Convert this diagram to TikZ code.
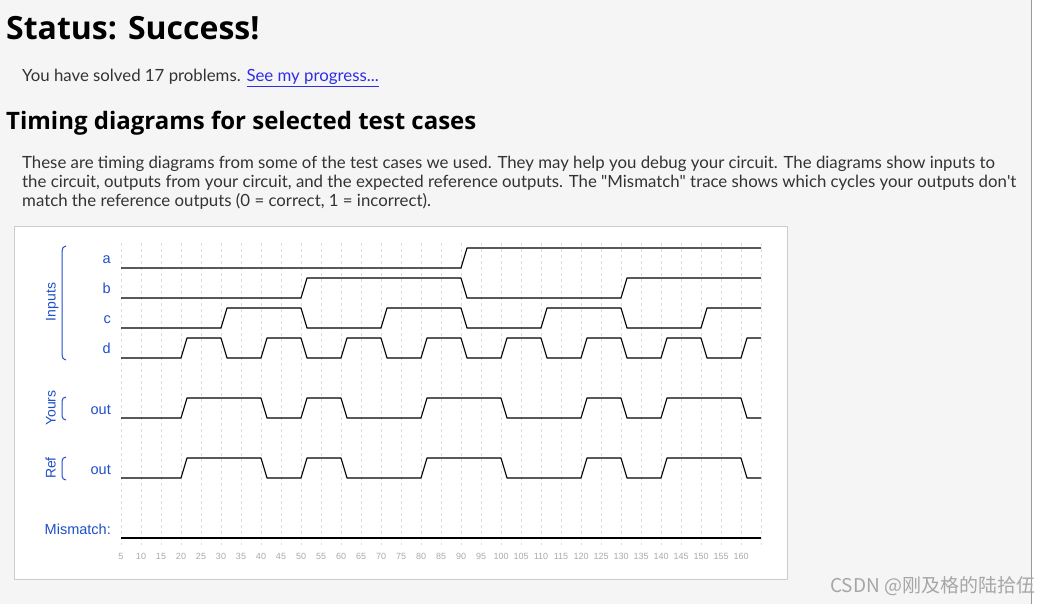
\documentclass[tikz,border=0pt]{standalone}
\usepackage{fontspec}
\setmainfont{Lato}
\newfontfamily\headfont{Open Sans}
\newfontfamily\arialfont{Liberation Sans}
\newfontfamily\cjkfont{Noto Sans CJK SC}
\definecolor{pagebg}{HTML}{F5F5F5}
\definecolor{bodytext}{HTML}{333333}
\definecolor{linkblue}{HTML}{2E2EE6}
\definecolor{lblblue}{HTML}{1E50C8}
\definecolor{gridgray}{HTML}{DCDCDC}
\definecolor{axisgray}{HTML}{AAAAAA}
\definecolor{boxgray}{HTML}{CCCCCC}
\definecolor{rulegray}{HTML}{9A9A9A}
\definecolor{wmgray}{HTML}{A6A6A6}
\tikzset{
  txt/.style={anchor=base west, inner sep=0pt, text=bodytext, font=\fontsize{16.8}{19}\selectfont},
  lbl/.style={anchor=base east, inner sep=0pt, text=lblblue, font=\arialfont\fontsize{14.5}{16}\selectfont},
  grplbl/.style={anchor=base, inner sep=0pt, rotate=90, text=lblblue, font=\arialfont\fontsize{14}{16}\selectfont},
  axislbl/.style={anchor=base, inner sep=0pt, text=axisgray, font=\arialfont\fontsize{9}{10}\selectfont},
  wave/.style={draw=black, line width=1.1pt, line join=round},
  gridline/.style={draw=gridgray, line width=0.7pt, dash pattern=on 3pt off 3pt},
  bracket/.style={draw=lblblue, line width=1pt}
}
\begin{document}
\begin{tikzpicture}[x=1pt,y=-1pt]
\useasboundingbox (0,0) rectangle (1056,604);
\fill[pagebg] (0,0) rectangle (1031,604);
\fill[white] (1031,0) rectangle (1056,604);
\draw[rulegray, line width=1.2pt] (1031.5,0) -- (1031.5,604);

% header texts
\node[anchor=base west, inner sep=0pt, text=black, font=\headfont\bfseries\fontsize{32}{38}\selectfont] (title) at (6,40) {Status: Success!};
\node[txt] (solved) at (22,81.5) {You have solved 17 problems. \textcolor{linkblue}{\underline{See my progress...}}};
\node[anchor=base west, inner sep=0pt, text=black, font=\headfont\bfseries\fontsize{24}{28}\selectfont] (h2) at (6,130) {Timing diagrams for selected test cases};
\node[txt] (p1) at (22,168) {These are timing diagrams from some of the test cases we used. They may help you debug your circuit. The diagrams show inputs to};
\node[txt] (p2) at (22,187.5) {the circuit, outputs from your circuit, and the expected reference outputs. The \textquotedbl Mismatch\textquotedbl{} trace shows which cycles your outputs don\textquotesingle t};
\node[txt] (p3) at (22,206.5) {match the reference outputs (0 = correct, 1 = incorrect).};

% diagram box
\draw[boxgray, fill=white, line width=1pt] (14.5,226.5) rectangle (787.5,579.5);

% grid
\foreach \t in {5,10,...,165} {
  \draw[gridline] ({101+4*\t},243) -- ({101+4*\t},545);
}
\foreach \t in {5,10,...,160} {
  \node[axislbl] (ax\t) at ({101+4*\t},559) {\t};
}

% labels
\node[lbl] (la) at (111,263.5) {a};
\node[lbl] (lb) at (111,293.5) {b};
\node[lbl] (lc) at (111,323.5) {c};
\node[lbl] (ld) at (111,353.5) {d};
\node[lbl] (lyo) at (111,414) {out};
\node[lbl] (lro) at (111,474) {out};
\node[lbl] (lmm) at (111,534) {Mismatch:};
\node[grplbl] (ginputs) at (55.5,302) {Inputs};
\node[grplbl] (gyours) at (55.5,408) {Yours};
\node[grplbl] (gref) at (55.5,468) {Ref};

% brackets
\draw[bracket] (66,246) to[out=180,in=90] (62,251) -- (62,355) to[out=-90,in=180] (66,360);
\draw[bracket] (66,397) to[out=180,in=90] (62,401) -- (62,416) to[out=-90,in=180] (66,420);
\draw[bracket] (66,457) to[out=180,in=90] (62,461) -- (62,476) to[out=-90,in=180] (66,480);

% waveforms (x in time units)
\begin{scope}[x=4pt, xshift=101pt]
\draw[wave] (5,268) -- (90,268) -- (91.5,248) -- (165,248);
\draw[wave] (5,298) -- (50,298) -- (51.5,278) -- (90,278) -- (91.5,298) -- (130,298) -- (131.5,278) -- (165,278);
\draw[wave] (5,328) -- (30,328) -- (31.5,308) -- (50,308) -- (51.5,328) -- (70,328) -- (71.5,308) -- (90,308) -- (91.5,328) -- (110,328) -- (111.5,308) -- (130,308) -- (131.5,328) -- (150,328) -- (151.5,308) -- (165,308);
\draw[wave] (5,358) \foreach \t in {20,40,...,140} { -- (\t,358) -- (\t+1.5,338) -- (\t+10,338) -- (\t+11.5,358) } -- (160,358) -- (161.5,338) -- (165,338);
\draw[wave] (5,418) -- (20,418) -- (21.5,398) -- (40,398) -- (41.5,418) -- (50,418) -- (51.5,398) -- (60,398) -- (61.5,418) -- (80,418) -- (81.5,398) -- (100,398) -- (101.5,418) -- (120,418) -- (121.5,398) -- (130,398) -- (131.5,418) -- (140,418) -- (141.5,398) -- (160,398) -- (161.5,418) -- (165,418);
\draw[wave] (5,478) -- (20,478) -- (21.5,458) -- (40,458) -- (41.5,478) -- (50,478) -- (51.5,458) -- (60,458) -- (61.5,478) -- (80,478) -- (81.5,458) -- (100,458) -- (101.5,478) -- (120,478) -- (121.5,458) -- (130,458) -- (131.5,478) -- (140,478) -- (141.5,458) -- (160,458) -- (161.5,478) -- (165,478);
\draw[wave] (5,538) -- (165,538);
\end{scope}

% watermark
\node[anchor=base west, inner sep=0pt, text=wmgray, font=\cjkfont\fontsize{19}{22}\selectfont] (wm) at (830,592) {CSDN @刚及格的陆拾伍};
\end{tikzpicture}
\end{document}
